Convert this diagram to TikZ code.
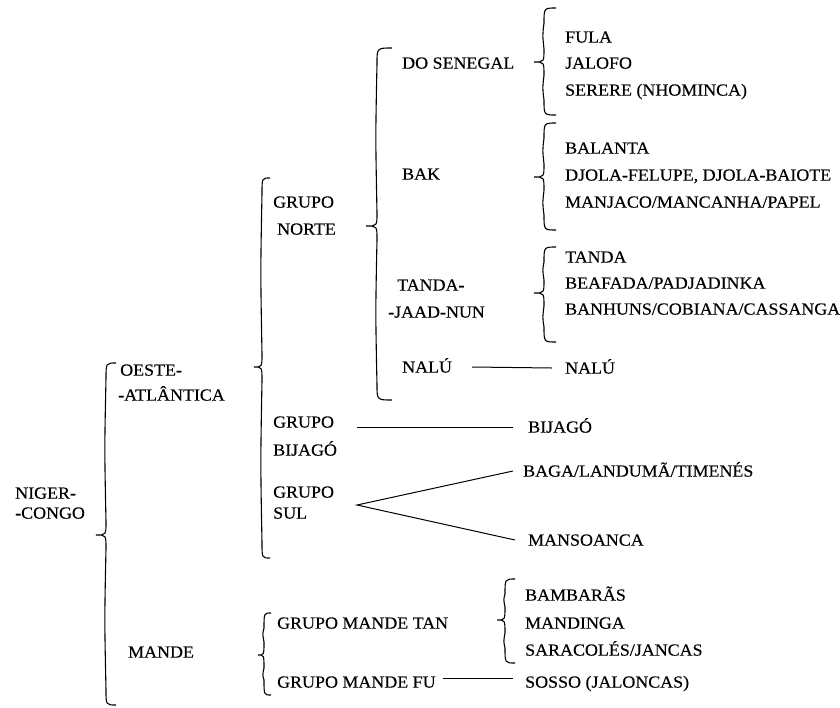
\documentclass[tikz,border=0pt]{standalone}
\usepackage{fontspec}
\setmainfont{Liberation Serif}[FakeStretch=1.055,FakeBold=0.35]
\newcommand\wbrace[6]{\draw[bracestyle] (#3,#4) .. controls (#2,#4) .. (#2,{#4+15}) .. controls ({#2-1.5},{(#4+#5)/2}) .. (#2,{#5-13}) .. controls (#2,#5) .. (#1,#5) .. controls (#2,#5) .. (#2,{#5+13}) .. controls ({#2-1.5},{(#5+#6)/2}) .. (#2,{#6-15}) .. controls (#2,#6) .. (#3,#6);}
\begin{document}
\begin{tikzpicture}[x=1pt,y=-1pt,
  lbl/.style={font=\fontsize{17}{20}\selectfont, inner sep=0pt, anchor=west, text height=11.25pt, text depth=0pt},
  bracestyle/.style={line width=1.1pt},
  link/.style={line width=1pt}]
\useasboundingbox (0,0) rectangle (840,707);
% braces
\wbrace{96}{106}{116}{363}{535}{705}
\wbrace{254}{262}{270}{178}{367}{558}
\wbrace{366}{377}{392}{48}{226}{400}
\wbrace{534}{544}{556}{8}{62}{115}
\wbrace{534}{544}{556}{123}{177}{230}
\wbrace{534}{544}{556}{247}{293}{342}
\wbrace{258}{264}{271}{613}{655}{695}
\wbrace{497}{505}{515}{579}{620}{663}
% level 1
\node[lbl] (niger1) at (15,493) {NIGER-};
\node[lbl] (niger2) at (15,513) {-CONGO};
% level 2
\node[lbl] (oeste1) at (120,370) {OESTE-};
\node[lbl] (oeste2) at (118,395) {-ATLÂNTICA};
\node[lbl] (mande) at (128,652) {MANDE};
% level 3
\node[lbl] (gn1) at (273,202) {GRUPO};
\node[lbl] (gn2) at (277,229) {NORTE};
\node[lbl] (gb1) at (273,422) {GRUPO};
\node[lbl] (gb2) at (273,450) {BIJAGÓ};
\node[lbl] (gs1) at (273,492) {GRUPO};
\node[lbl] (gs2) at (273,513) {SUL};
\node[lbl] (tan) at (277,623) {GRUPO MANDE TAN};
\node[lbl] (fu) at (277,682) {GRUPO MANDE FU};
% level 4
\node[lbl] (dosen) at (402,63) {DO SENEGAL};
\node[lbl] (bak) at (402,174) {BAK};
\node[lbl] (tanda1) at (397,285) {TANDA-};
\node[lbl] (tanda2) at (388,312) {-JAAD-NUN};
\node[lbl] (nalu) at (402,367) {NALÚ};
% leaves
\node[lbl] (fula) at (565,37) {FULA};
\node[lbl] (jalofo) at (565,63) {JALOFO};
\node[lbl] (serere) at (565,90) {SERERE (NHOMINCA)};
\node[lbl] (balanta) at (565,148) {BALANTA};
\node[lbl] (djola) at (565,175) {DJOLA-FELUPE, DJOLA-BAIOTE};
\node[lbl] (manjaco) at (565,202) {MANJACO/MANCANHA/PAPEL};
\node[lbl] (tanda) at (565,257) {TANDA};
\node[lbl] (beafada) at (565,283) {BEAFADA/PADJADINKA};
\node[lbl] (banhuns) at (565,309) {BANHUNS/COBIANA/CASSANGA};
\node[lbl] (naluleaf) at (565,368) {NALÚ};
\node[lbl] (bijleaf) at (528,427) {BIJAGÓ};
\node[lbl] (baga) at (523,471) {BAGA/LANDUMÃ/TIMENÉS};
\node[lbl] (mansoanca) at (528,540) {MANSOANCA};
\node[lbl] (bambaras) at (525,595) {BAMBARÃS};
\node[lbl] (mandinga) at (525,623) {MANDINGA};
\node[lbl] (saracoles) at (525,650) {SARACOLÉS/JANCAS};
\node[lbl] (sosso) at (525,682) {SOSSO (JALONCAS)};
% connectors
\draw[link] ([xshift=20pt]nalu.east) -- ([xshift=-13pt]naluleaf.west);
\draw[link] ([xshift=-15pt]bijleaf.west) -- ++(-156,0);
\coordinate (sulv) at (357,505);
\draw[link] ([xshift=-10pt]baga.west) -- (sulv) -- ([xshift=-13pt]mansoanca.west);
\draw[link] ([xshift=-12pt,yshift=4pt]sosso.west) -- ++(-70,0);
\end{tikzpicture}
\end{document}
